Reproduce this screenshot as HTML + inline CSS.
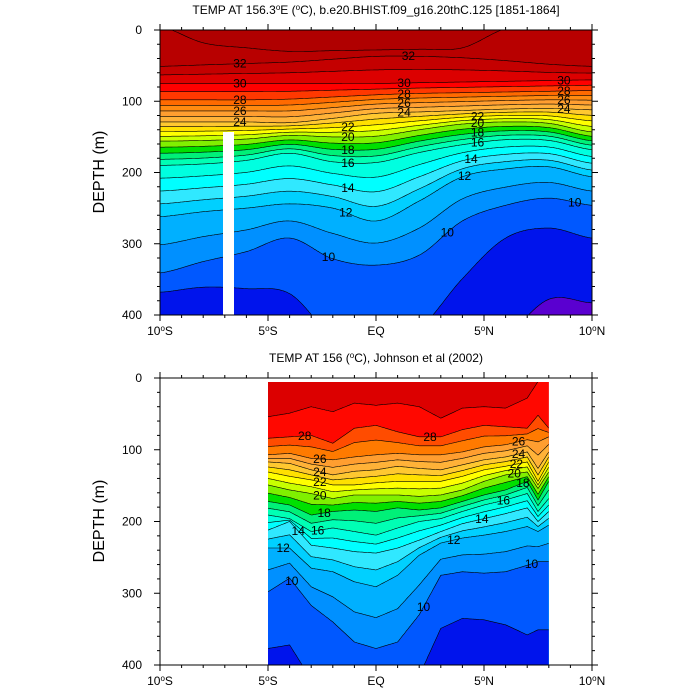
<!DOCTYPE html>
<html><head><meta charset="utf-8">
<style>
html,body{margin:0;padding:0;background:#fff;width:700px;height:700px;overflow:hidden;}
svg{display:block;font-family:"Liberation Sans",sans-serif;}
</style></head>
<body>
<svg id="chart" width="700" height="700" viewBox="0 0 700 700" xmlns="http://www.w3.org/2000/svg">
<defs>
<clipPath id="clipTop"><rect x="160" y="30" width="432" height="285"/></clipPath>
<clipPath id="clipBot"><rect x="268" y="382" width="280.8" height="283"/></clipPath>
</defs>
<g id="topFill" clip-path="url(#clipTop)"></g>
<rect x="223" y="132" width="11" height="183" fill="#fff"/>
<g id="botFill" clip-path="url(#clipBot)"></g>
<g id="axes"></g>
<text x="376" y="14" text-anchor="middle" font-size="12">TEMP AT 156.3<tspan dy="-4" font-size="8">o</tspan><tspan dy="4">E (</tspan><tspan dy="-4" font-size="8">o</tspan><tspan dy="4">C), b.e20.BHIST.f09_g16.20thC.125 [1851-1864]</tspan></text>
<text x="376" y="362" text-anchor="middle" font-size="12">TEMP AT 156 (<tspan dy="-4" font-size="8">o</tspan><tspan dy="4">C), Johnson et al (2002)</tspan></text>
<text transform="translate(104,172) rotate(-90)" text-anchor="middle" font-size="16">DEPTH (m)</text>
<text transform="translate(104,521) rotate(-90)" text-anchor="middle" font-size="16">DEPTH (m)</text>
</svg>
<script>
// ---------- data: isotherm depths (m) ----------
const topLats = [-10,-8,-6,-4,-2,0,2,4,6,8,10];
const top33 = [-5,18,25,30,29,28,27,25,-2,-10,-10];
const top32 = [51,49,47,45,41,37,37,39,43,48,51];
const top30 = [75,75,75,75,75,75,74,73,72,71,70];
const top28 = [98,98,98,97,94,91,89,88,87,86,85];
const top24 = [129,129,129,130,124,117,115,113,111,110,112];
const top20 = [156,155,153,148,150,149,140,132,129,131,143];
const top16 = [190,188,183,173,185,186,172,161,154,155,168];
const top12 = [262,255,250,244,250,268,240,206,195,192,206];
const top10 = [341,325,311,292,321,330,316,268,246,236,246];
const top9 = [368,361,363,370,430,450,420,349,292,278,292];
const top8 = [470,470,470,470,470,470,470,460,430,378,383];
const topLabels = [[32,-6.3],[32,1.5],[30,-6.3],[30,1.3],[30,8.7],[28,-6.3],[28,1.3],[28,8.7],[26,-6.3],[26,1.3],[26,8.7],[24,-6.3],[24,1.3],[24,8.7],[22,-1.3],[22,4.7],[20,-1.3],[20,4.7],[18,-1.3],[18,4.7],[16,-1.3],[16,4.7],[14,-1.3],[14,4.4],[12,-1.4],[12,4.1],[10,-2.2],[10,3.3],[10,9.2]];

const botLats = [-5,-4,-3,-2,-1,0,1,2,3,4,5,6,7,7.5,8];
const bot29 = [54,49,40,47,35,38,35,40,56,42,40,42,28,5,5];
const bot28 = [84,82,80,91,70,66,75,82,82,72,66,68,70,52,70];
const bot26 = [107,105,112,114,110,107,105,107,107,103,96,93,86,89,82];
const bot24 = [117,119,128,135,130,128,123,126,128,121,114,110,103,126,103];
const bot22 = [131,137,142,149,149,146,144,144,144,137,128,123,117,144,117];
const bot20 = [149,156,161,168,163,163,163,165,163,156,144,135,131,154,131];
const bot18 = [172,177,191,186,184,186,181,184,181,172,163,156,144,170,144];
const bot16 = [191,196,214,209,214,219,209,200,196,186,177,170,161,186,168];
const bot14 = [212,200,233,237,242,244,237,226,214,203,196,189,181,200,186];
const bot12 = [237,237,265,270,284,291,275,247,230,223,219,214,207,214,205];
const bot10 = [298,279,317,340,368,377,368,330,275,270,272,270,261,256,256];
const bot9 = [377,372,420,440,450,450,440,415,349,335,337,344,358,351,351];
const botLabels = [[28,-3.3],[28,2.5],[26,-2.6],[26,6.6],[24,-2.6],[24,6.6],[22,-2.6],[22,6.5],[20,-2.6],[20,6.4],[18,-2.4],[18,6.8],[16,-2.7],[16,5.9],[14,-3.6],[14,4.9],[12,-4.3],[12,3.6],[10,-3.9],[10,2.2],[10,7.2]];

const palette = {34:'#b00000',33:'#b80000',32:'#c40000',31:'#dc0000',30:'#ff0000',29:'#ff3800',28:'#ff6a00',27:'#ff8a10',26:'#ff9e30',25:'#ffb238',24:'#ffc830',23:'#ffe000',22:'#ffff00',21:'#c8ff00',20:'#80f000',19:'#00e000',18:'#00f078',17:'#00ffb4',16:'#00ffe0',15:'#00ffff',14:'#30e8ff',13:'#00d0ff',12:'#00b0ff',11:'#0090ff',10:'#0058ff',9:'#0014ec',8:'#5a00d0'};
const botPalette = Object.assign({}, palette, {29:'#ff0800',28:'#ff4c00',27:'#ff7a00'});

// ---------- axes functions ----------
const xOf = lat => 160 + (lat + 10) * 21.6;
const yTop = d => 30 + Math.max(-2, Math.min(401, d)) * 0.7125;
const yBot = d => 378 + Math.max(-2, Math.min(401, d)) * 0.7175;
const NS = 'http://www.w3.org/2000/svg';

function interp(lats, vals, x, smooth) {
  let i = 0;
  while (i < lats.length - 2 && x > lats[i + 1]) i++;
  const t = (x - lats[i]) / (lats[i + 1] - lats[i]);
  if (!smooth) return vals[i] + (vals[i + 1] - vals[i]) * t;
  const p0 = vals[Math.max(i - 1, 0)], p1 = vals[i], p2 = vals[i + 1], p3 = vals[Math.min(i + 2, vals.length - 1)];
  return 0.5 * ((2 * p1) + (-p0 + p2) * t + (2 * p0 - 5 * p1 + 4 * p2 - p3) * t * t + (-p0 + 3 * p1 - 3 * p2 + p3) * t * t * t);
}

function buildLevels(keys, minL, maxL) {
  const out = {};
  for (let L = maxL; L >= minL; L--) {
    const k = keys.find(e => e[0] === L);
    if (k) { out[L] = k[1]; continue; }
    let hi = null, lo = null;
    keys.forEach(e => { if (e[0] > L && (!hi || e[0] < hi[0])) hi = e; if (e[0] < L && (!lo || e[0] > lo[0])) lo = e; });
    const f = (hi[0] - L) / (hi[0] - lo[0]);
    out[L] = hi[1].map((v, j) => v + (lo[1][j] - v) * f);
  }
  return out;
}

function renderPanel(gId, lats, keys, minL, maxL, yFn, smooth, labels, prefix, pal) {
  const g = document.getElementById(gId);
  const levels = buildLevels(keys, minL, maxL);
  const x0 = lats[0], x1 = lats[lats.length - 1];
  const curves = {};
  for (let L = maxL; L >= minL; L--) {
    const pts = [];
    for (let x = x0; x <= x1 + 1e-6; x += 0.05) pts.push([xOf(x), yFn(interp(lats, levels[L], x, smooth))]);
    curves[L] = pts;
    const poly = document.createElementNS(NS, 'polygon');
    const all = pts.concat([[xOf(x1), yFn(401)], [xOf(x0), yFn(401)]]);
    poly.setAttribute('points', all.map(p => p[0].toFixed(1) + ',' + p[1].toFixed(1)).join(' '));
    poly.setAttribute('fill', pal[L]);
    
    
    g.appendChild(poly);
  }
  for (let L = maxL; L >= minL; L--) {
    const pl = document.createElementNS(NS, 'polyline');
    pl.setAttribute('points', curves[L].map(p => p[0].toFixed(1) + ',' + p[1].toFixed(1)).join(' '));
    pl.setAttribute('fill', 'none'); pl.setAttribute('stroke', '#000'); pl.setAttribute('stroke-width', '0.6');
    
    
    g.appendChild(pl);
  }
  labels.forEach(([L, lat]) => {
    const t = document.createElementNS(NS, 'text');
    t.setAttribute('x', xOf(lat)); t.setAttribute('y', yFn(interp(lats, levels[L], lat, smooth)) + 4);
    t.setAttribute('text-anchor', 'middle'); t.setAttribute('font-size', '12');
    t.textContent = L;
    
    
    g.appendChild(t);
  });
}

// background fills
(function(){
  const b1 = document.createElementNS(NS, 'rect');
  b1.setAttribute('x', 160); b1.setAttribute('y', 30); b1.setAttribute('width', 432); b1.setAttribute('height', 285); b1.setAttribute('fill', palette[34]);
  
  
  document.getElementById('topFill').appendChild(b1);
  const b2 = document.createElementNS(NS, 'rect');
  b2.setAttribute('x', 268); b2.setAttribute('y', 382); b2.setAttribute('width', 281); b2.setAttribute('height', 283); b2.setAttribute('fill', '#dc0000');
  
  
  document.getElementById('botFill').appendChild(b2);
})();

renderPanel('topFill', topLats, [[33,top33],[32,top32],[30,top30],[28,top28],[24,top24],[20,top20],[16,top16],[12,top12],[10,top10],[9,top9],[8,top8]], 8, 33, yTop, true, topLabels, 'top', palette);
renderPanel('botFill', botLats, [[29,bot29],[28,bot28],[26,bot26],[24,bot24],[22,bot22],[20,bot20],[18,bot18],[16,bot16],[14,bot14],[12,bot12],[10,bot10],[9,bot9]], 9, 29, yBot, false, botLabels, 'bottom', botPalette);

// axes
const xTicks = [-10,-5,0,5,10];
const xTickLabels = ['10','5','EQ','5','10'];
const xTickSuffix = ['S','S','','N','N'];
const yTicks = [0,100,200,300,400];
const ax = document.getElementById('axes');
function line(x1,y1,x2,y2,name){
  const l = document.createElementNS(NS,'line');
  l.setAttribute('x1',x1);l.setAttribute('y1',y1);l.setAttribute('x2',x2);l.setAttribute('y2',y2);
  l.setAttribute('stroke','#000');l.setAttribute('stroke-width','1');
  
  
  ax.appendChild(l);
}
[[yTop,'top'],[yBot,'bottom']].forEach(([yf,p]) => {
  const yt = yf(0), yb = yf(400);
  const fr = document.createElementNS(NS,'rect');
  fr.setAttribute('x',160);fr.setAttribute('y',yt);fr.setAttribute('width',432);fr.setAttribute('height',yb-yt);
  fr.setAttribute('fill','none');fr.setAttribute('stroke','#000');fr.setAttribute('stroke-width','1');
  
  
  ax.appendChild(fr);
  for (let lat = -10; lat <= 10; lat++) {
    const major = lat % 5 === 0, len = major ? 6 : 3;
    line(xOf(lat), yb, xOf(lat), yb + len, p + '-x-tick');
    line(xOf(lat), yt, xOf(lat), yt - len, p + '-x-tick');
  }
  for (let d = 0; d <= 400; d += 20) {
    const major = d % 100 === 0, len = major ? 6 : 3;
    line(160, yf(d), 160 - len, yf(d), p + '-y-tick');
    line(592, yf(d), 592 + len, yf(d), p + '-y-tick');
  }
  yTicks.forEach(v => {
    const t = document.createElementNS(NS,'text');
    t.setAttribute('x',142);t.setAttribute('y',yf(v)+4);t.setAttribute('text-anchor','end');t.setAttribute('font-size','12');
    t.textContent = v;
    
    
    ax.appendChild(t);
  });
  xTicks.forEach((v,i) => {
    const t = document.createElementNS(NS,'text');
    t.setAttribute('x',xOf(v));t.setAttribute('y',yb+20);t.setAttribute('text-anchor','middle');t.setAttribute('font-size','12');
    if (xTickSuffix[i]) {
      t.innerHTML = xTickLabels[i] + '<tspan dy="-4" font-size="8">o</tspan><tspan dy="4">' + xTickSuffix[i] + '</tspan>';
    } else t.textContent = xTickLabels[i];
    
    
    ax.appendChild(t);
  });
});
</script>
</body></html>
